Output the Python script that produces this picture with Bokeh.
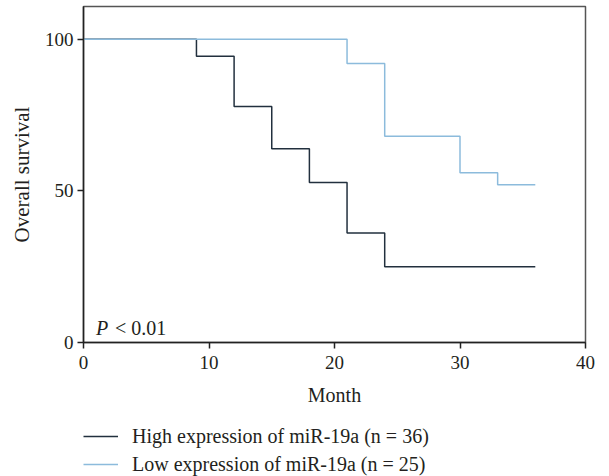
from bokeh.plotting import figure
from bokeh.models import Legend, LegendItem, Range1d, FixedTicker, Label
from bokeh.layouts import column
from bokeh.embed import file_html
from bokeh.resources import INLINE

months_high = [0, 9, 12, 15, 18, 21, 24, 36]
surv_high = [100, 94.4, 77.8, 63.9, 52.8, 36.1, 25.0, 25.0]
months_low = [0, 21, 24, 30, 33, 36]
surv_low = [100, 92, 68, 56, 52, 52]
x_ticks = [0, 10, 20, 30, 40]
y_ticks = [0, 50, 100]
label_high = "High expression of miR-19a (n = 36)"
label_low = "Low expression of miR-19a (n = 25)"

FONT = "Liberation Serif"
FS_TICK = "19px"
FS = "20px"
TXT = "#231f20"
DARK = "#22303e"
LIGHT = "#8cbbdc"

main = figure(width=609, height=414, x_range=Range1d(0, 40), y_range=Range1d(0, 110.8),
              output_backend="svg", toolbar_location=None,
              min_border_left=83, min_border_right=24, min_border_top=6, min_border_bottom=72)
main.background_fill_color = "white"
main.border_fill_color = "white"
main.outline_line_color = "#555555"
main.outline_line_width = 1.5
main.xgrid.visible = False
main.ygrid.visible = False

main.step(months_high, surv_high, mode="after", line_color=DARK, line_width=1.5)
main.step(months_low, surv_low, mode="after", line_color=LIGHT, line_width=1.5)

for ax in (main.xaxis[0], main.yaxis[0]):
    ax.axis_line_color = "#222222"
    ax.axis_line_width = 1.5
    ax.major_tick_line_color = "#222222"
    ax.major_tick_line_width = 1.5
    ax.major_tick_out = 6
    ax.major_tick_in = 0
    ax.minor_tick_line_color = None
    ax.major_label_text_font = FONT
    ax.major_label_text_font_size = FS_TICK
    ax.major_label_text_color = TXT
    ax.axis_label_text_font = FONT
    ax.axis_label_text_font_size = FS
    ax.axis_label_text_font_style = "normal"
    ax.axis_label_text_color = TXT

main.xaxis.ticker = FixedTicker(ticks=x_ticks)
main.yaxis.ticker = FixedTicker(ticks=y_ticks)
main.xaxis.axis_label = "Month"
main.yaxis.axis_label = "Overall survival"
main.yaxis.axis_label_text_font_size = "21px"
main.xaxis.major_label_standoff = 7
main.xaxis.axis_label_standoff = 12
main.yaxis.major_label_standoff = 4
main.yaxis.axis_label_standoff = 8

main.add_layout(Label(x=1.0, y=1.3, text="P", text_font=FONT, text_font_size=FS,
                      text_font_style="italic", text_color=TXT))
main.add_layout(Label(x=2.5, y=1.3, text="< 0.01", text_font=FONT, text_font_size=FS,
                      text_color=TXT))

# legend strip below the chart (series drawn outside its visible range)
leg = figure(width=609, height=62, x_range=Range1d(0, 1), y_range=Range1d(0, 1),
             output_backend="svg", toolbar_location=None,
             min_border_left=0, min_border_right=0, min_border_top=0, min_border_bottom=0)
leg.axis.visible = False
leg.grid.visible = False
leg.outline_line_color = None
lh = leg.step(months_high, surv_high, mode="after", line_color=DARK, line_width=1.5)
ll = leg.step(months_low, surv_low, mode="after", line_color=LIGHT, line_width=1.5)
legend = Legend(items=[LegendItem(label=label_high, renderers=[lh]),
                       LegendItem(label=label_low, renderers=[ll])],
                location=(0, 0), orientation="vertical",
                glyph_width=35, glyph_height=24, label_height=24, spacing=4,
                label_standoff=14, padding=0, margin=0,
                border_line_color=None, background_fill_alpha=0,
                label_text_font=FONT, label_text_font_size=FS,
                label_text_color=TXT)
leg.add_layout(legend)

p = column(main, leg, spacing=0)
open("out.html", "w").write(file_html(p, INLINE))
